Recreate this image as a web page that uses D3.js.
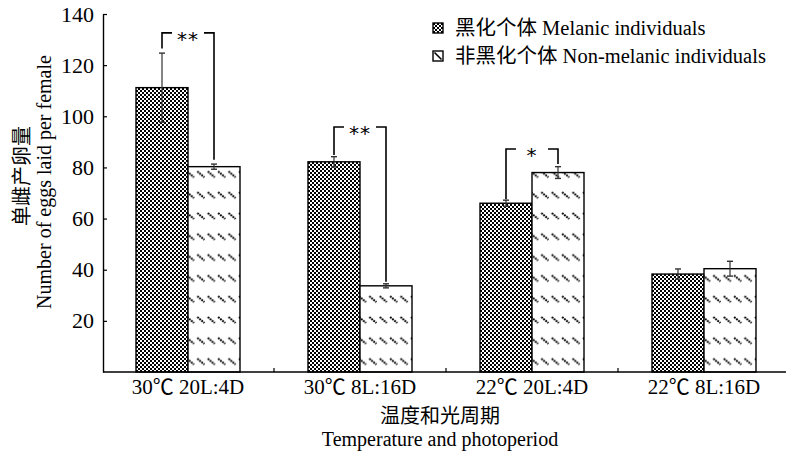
<!DOCTYPE html>
<html>
<head>
<meta charset="utf-8">
<script src="https://cdn.jsdelivr.net/npm/d3@7"></script>
<style>
  html, body { margin: 0; padding: 0; background: #fff; }
  svg text { font-family: "Liberation Serif", "Times New Roman", "Noto Sans CJK SC", serif; fill: #000; }
</style>
</head>
<body>
<svg id="chart" width="786" height="456"></svg>
<script>
// ---- data ----
const categories = ["30℃ 20L:4D", "30℃ 8L:16D", "22℃ 20L:4D", "22℃ 8L:16D"];
const seriesKeys = ["melanic", "nonMelanic"];
const seriesNames = ["黑化个体 Melanic individuals", "非黑化个体 Non-melanic individuals"];
const melanicMeans = [111.2, 82.2, 66.0, 38.3];
const melanicErrors = [13.5, 2.0, 1.2, 2.0];
const nonMelanicMeans = [80.3, 33.7, 78.0, 40.4];
const nonMelanicErrors = [1.0, 0.8, 2.3, 2.9];
const yTicks = [20, 40, 60, 80, 100, 120, 140];
// significance brackets: bracket height, left leg end, right leg end (values), label
const sigCategories = ["30℃ 20L:4D", "30℃ 8L:16D", "22℃ 20L:4D"];
const sigTop = [132.6, 95.8, 87.2];
const sigLeftEnd = [126.5, 84.9, 67.6];
const sigRightEnd = [83.0, 35.3, 81.3];
const sigLabels = ["**", "**", "*"];

// ---- layout ----
const svg = d3.select("#chart");
const plot = { left: 102, right: 790, top: 14, bottom: 372 };

const x0 = d3.scaleBand().domain(categories).range([plot.left, plot.right]).paddingInner(0).paddingOuter(0);
const groupPad = 34;
const x1 = d3.scaleBand().domain(seriesKeys).range([groupPad, x0.bandwidth() - groupPad]).padding(0);
const y = d3.scaleLinear().domain([0, 140]).range([plot.bottom, plot.top]);

// ---- patterns ----
const defs = svg.append("defs");
const checker = defs.append("pattern").attr("id", "checker")
  .attr("patternUnits", "userSpaceOnUse").attr("width", 4).attr("height", 4);
checker.append("rect").attr("width", 4).attr("height", 4).attr("fill", "#fff");
checker.append("rect").attr("width", 2).attr("height", 2).attr("fill", "#000");
checker.append("rect").attr("x", 2).attr("y", 2).attr("width", 2).attr("height", 2).attr("fill", "#000");

const dashes = defs.append("pattern").attr("id", "dashes")
  .attr("patternUnits", "userSpaceOnUse").attr("width", 10.4).attr("height", 20.8)
  .attr("x", x1("nonMelanic") + plot.left).attr("y", 4);
dashes.append("rect").attr("width", 10.4).attr("height", 20.8).attr("fill", "#fff");
dashes.append("line").attr("x1", 1).attr("y1", 1).attr("x2", 8).attr("y2", 7)
  .attr("stroke", "#000").attr("stroke-width", 2).attr("stroke-dasharray", "1.8 0.9");

const fills = { melanic: "url(#checker)", nonMelanic: "url(#dashes)" };

// ---- data table ----
const rows = categories.map((c, i) => ({
  cat: c,
  values: [
    { key: "melanic", mean: melanicMeans[i], err: melanicErrors[i] },
    { key: "nonMelanic", mean: nonMelanicMeans[i], err: nonMelanicErrors[i] }
  ]
}));

// ---- bars ----
const groups = svg.append("g").selectAll("g").data(rows).join("g")
  .attr("transform", d => `translate(${x0(d.cat)},0)`);

groups.selectAll("rect").data(d => d.values).join("rect")
  .attr("x", d => x1(d.key))
  .attr("y", d => y(d.mean))
  .attr("width", x1.bandwidth())
  .attr("height", d => y(0) - y(d.mean))
  .attr("fill", d => fills[d.key])
  .attr("stroke", "#000").attr("stroke-width", 1.4);

// error bars
const eb = groups.selectAll("g.err").data(d => d.values).join("g").attr("class", "err")
  .attr("transform", d => `translate(${x1(d.key) + x1.bandwidth() / 2},0)`);
eb.append("line").attr("y1", d => y(d.mean - d.err)).attr("y2", d => y(d.mean + d.err))
  .attr("stroke", "#333").attr("stroke-width", 1.2);
eb.append("line").attr("x1", -3).attr("x2", 3).attr("y1", d => y(d.mean + d.err)).attr("y2", d => y(d.mean + d.err))
  .attr("stroke", "#333").attr("stroke-width", 1.4);
eb.append("line").attr("x1", -3).attr("x2", 3).attr("y1", d => y(d.mean - d.err)).attr("y2", d => y(d.mean - d.err))
  .attr("stroke", "#333").attr("stroke-width", 1.4);

// ---- axes ----
const yAxis = d3.axisLeft(y).tickValues(yTicks).tickSizeInner(-4).tickSizeOuter(0).tickPadding(9);
const gy = svg.append("g").attr("transform", `translate(${plot.left + 1},0)`).call(yAxis);
gy.select(".domain").attr("stroke", "#000").attr("stroke-width", 1.4);
gy.selectAll(".tick line").attr("stroke", "#000").attr("stroke-width", 1.2);
gy.selectAll(".tick text").style("font-size", "22px").attr("fill", "#000");

// bottom axis
const xAxisG = svg.append("g").attr("transform", `translate(0,${plot.bottom})`);
xAxisG.append("line").attr("x1", plot.left + 1).attr("x2", 786).attr("y1", 0).attr("y2", 0)
  .attr("stroke", "#000").attr("stroke-width", 1.4);
xAxisG.selectAll("line.sep").data(categories.slice(1)).join("line").attr("class", "sep")
  .attr("x1", d => x0(d)).attr("x2", d => x0(d)).attr("y1", 0).attr("y2", -4)
  .attr("stroke", "#000").attr("stroke-width", 1.2);
xAxisG.selectAll("text").data(categories).join("text")
  .attr("x", d => x0(d) + x0.bandwidth() / 2).attr("y", 22)
  .attr("text-anchor", "middle").style("font-size", "21px").text(d => d);

// axis titles
svg.append("text").attr("x", 440).attr("y", 423).attr("text-anchor", "middle")
  .style("font-size", "20px").text("温度和光周期");
svg.append("text").attr("x", 440).attr("y", 446).attr("text-anchor", "middle")
  .style("font-size", "20px").text("Temperature and photoperiod");
svg.append("text").attr("transform", "translate(29,176) rotate(-90)").attr("text-anchor", "middle")
  .style("font-size", "20px").text("单雌产卵量");
svg.append("text").attr("transform", "translate(51,182) rotate(-90)").attr("text-anchor", "middle")
  .style("font-size", "20px").text("Number of eggs laid per female");

// ---- significance brackets ----
const sig = sigCategories.map((c, i) => ({ cat: c, top: sigTop[i], le: sigLeftEnd[i], re: sigRightEnd[i], label: sigLabels[i] }));
const sg = svg.append("g").selectAll("g").data(sig).join("g")
  .attr("transform", d => `translate(${x0(d.cat)},0)`);
const lx = x1("melanic") + x1.bandwidth() / 2;
const rx = x1("nonMelanic") + x1.bandwidth() / 2;
const seg = 10;
sg.append("path")
  .attr("d", d => `M${lx},${y(d.le)}V${y(d.top)}H${lx + seg}`)
  .attr("fill", "none").attr("stroke", "#000").attr("stroke-width", 1.6);
sg.append("path")
  .attr("d", d => `M${rx - seg},${y(d.top)}H${rx}V${y(d.re)}`)
  .attr("fill", "none").attr("stroke", "#000").attr("stroke-width", 1.6);
sg.append("text").attr("x", (lx + rx) / 2).attr("y", d => y(d.top) + 13)
  .attr("text-anchor", "middle")
  .style("font-family", "'DejaVu Sans', sans-serif").style("font-size", "20px")
  .style("letter-spacing", "1px")
  .text(d => d.label);

// ---- legend ----
const legend = svg.append("g").attr("transform", "translate(433,23)");
const li = legend.selectAll("g").data(seriesKeys).join("g")
  .attr("transform", (d, i) => `translate(0,${i * 28})`);
li.append("rect").attr("width", 10).attr("height", 10)
  .attr("fill", d => d === "melanic" ? "url(#checker)" : "#fff")
  .attr("stroke", "#000").attr("stroke-width", 1.4);
li.filter(d => d === "nonMelanic").append("line")
  .attr("x1", 1.5).attr("y1", 1.5).attr("x2", 8.5).attr("y2", 8.5)
  .attr("stroke", "#000").attr("stroke-width", 1.6);
li.append("text").attr("x", 22).attr("y", 12).style("font-size", "20.5px")
  .text((d, i) => seriesNames[i]);
</script>
</body>
</html>
